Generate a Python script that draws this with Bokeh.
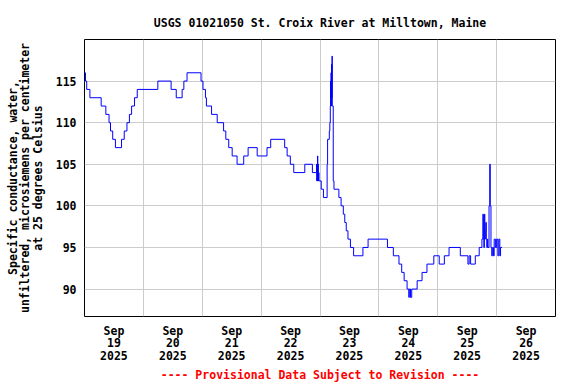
from bokeh.plotting import figure
from bokeh.models import FixedTicker, Range1d
from bokeh.embed import file_html
from bokeh.resources import INLINE

# Hours since 2025-09-19 00:00 at which the (integer) reading changes, and the new reading
hours = [0.0, 0.4, 0.9, 2.2, 6.8, 8.7, 10.0, 10.6, 11.5, 12.6, 15.1, 16.2, 17.3, 18.3, 19.2,
         20.4, 21.5, 29.9, 35.3, 37.4, 39.8, 40.5, 41.8, 47.5, 48.3, 49.3, 49.7, 51.8, 54.1,
         56.7, 57.6, 58.8, 60.2, 62.2, 64.9, 66.7, 70.4, 74.4, 75.9, 81.6, 82.6, 83.9, 85.3,
         89.8, 92.9, 94.6, 94.7, 94.8, 94.9, 95.0, 95.1, 95.2, 95.3, 95.4, 95.6, 96.5, 97.4,
         98.9, 99.1, 99.8, 100.0, 100.2, 100.3, 100.4, 100.5, 100.6, 100.7, 100.8, 100.9,
         101.0, 101.4, 101.7, 103.7, 104.6, 105.5, 106.1, 106.7, 107.4, 108.4, 109.7, 113.5,
         115.6, 123.5, 125.9, 128.2, 129.3, 130.3, 131.5, 132.2, 132.4, 132.9, 133.4, 135.6,
         137.6, 139.6, 142.4, 144.6, 146.7, 148.6, 153.2, 156.3, 156.8, 157.4, 159.3, 160.9,
         162.0, 162.4, 162.6, 162.8, 163.0, 163.2, 163.4, 163.6, 163.8, 164.0, 164.2, 164.4,
         164.9, 165.2, 165.4, 165.7, 166.0, 166.4, 166.7, 167.0, 167.5, 168.0, 168.5, 168.9,
         169.3, 169.6, 170.2]
values = [116, 115, 114, 113, 112, 111, 110, 109, 108, 107, 108, 109, 110, 111, 112,
          113, 114, 115, 114, 113, 114, 115, 116, 115, 114, 113, 112, 111, 110,
          109, 108, 107, 106, 105, 106, 107, 106, 107, 108, 107, 106, 105, 104,
          105, 104, 105, 103, 105, 103, 106, 103, 105, 103, 104, 103, 102, 101,
          105, 108, 109, 110, 112, 115, 113, 116, 112, 117, 113, 118,
          112, 103, 102, 101, 100, 99, 98, 97, 96, 95, 94, 95,
          96, 95, 94, 93, 92, 91, 90, 89, 90, 89, 90, 91,
          92, 93, 94, 93, 94, 95, 94, 93, 94, 93, 94, 95,
          96, 99, 96, 95, 99, 96, 97, 98, 96, 95, 96, 95,
          100, 105, 100, 95, 94, 95, 94, 96, 95, 96, 94, 96,
          94, 95, 95]

label_hours = [12, 36, 60, 84, 108, 132, 156, 180]
label_texts = ["Sep\n19\n2025", "Sep\n20\n2025", "Sep\n21\n2025", "Sep\n22\n2025",
               "Sep\n23\n2025", "Sep\n24\n2025", "Sep\n25\n2025", "Sep\n26\n2025"]
grid_hours = [24, 48, 72, 96, 120, 144, 168]
y_ticks = [90, 95, 100, 105, 110, 115]

FONT = "DejaVu Sans Mono"
FS = "11.5px"

p = figure(width=576, height=384, output_backend="svg", toolbar_location=None,
           x_range=Range1d(0, 192), y_range=Range1d(86.7, 120),
           min_border_left=84, min_border_right=21, min_border_top=39, min_border_bottom=68,
           background_fill_color="white", border_fill_color="white")

p.title.text = "USGS 01021050 St. Croix River at Milltown, Maine"
p.title.text_font = FONT
p.title.text_font_size = FS
p.title.text_font_style = "bold"
p.title.text_color = "black"
p.title.align = "center"
p.title.standoff = 20

p.outline_line_color = "black"
p.outline_line_width = 1
p.outline_line_alpha = 1.0

p.step(hours, values, mode="after", line_color="#0000ff", line_width=1)

# x axis
xa = p.xaxis[0]
xa.ticker = FixedTicker(ticks=label_hours)
xa.major_label_overrides = {h: t for h, t in zip(label_hours, label_texts)}
xa.major_tick_out = 0
xa.major_tick_in = 0
xa.minor_tick_out = 0
xa.minor_tick_in = 0
xa.axis_line_color = None
xa.major_label_text_font = FONT
xa.major_label_text_font_size = FS
xa.major_label_text_font_style = "bold"
xa.major_label_text_color = "black"
xa.major_label_text_line_height = 0.9
xa.major_label_standoff = 7
xa.axis_label = "---- Provisional Data Subject to Revision ----"
xa.axis_label_text_font = FONT
xa.axis_label_text_font_size = FS
xa.axis_label_text_font_style = "bold"
xa.axis_label_text_color = "#ff0000"
xa.axis_label_standoff = 2

# y axis
ya = p.yaxis[0]
ya.ticker = FixedTicker(ticks=y_ticks)
ya.major_tick_out = 0
ya.major_tick_in = 0
ya.minor_tick_out = 0
ya.minor_tick_in = 0
ya.axis_line_color = None
ya.major_label_text_font = FONT
ya.major_label_text_font_size = FS
ya.major_label_text_font_style = "bold"
ya.major_label_text_color = "black"
ya.major_label_standoff = 8
ya.axis_label = "Specific conductance, water,\nunfiltered, microsiemens per centimeter\nat 25 degrees Celsius"
ya.axis_label_text_font = FONT
ya.axis_label_text_font_size = FS
ya.axis_label_text_font_style = "bold"
ya.axis_label_text_color = "black"
ya.axis_label_text_line_height = 0.88
ya.axis_label_standoff = 8

# grids
p.xgrid.ticker = FixedTicker(ticks=grid_hours)
p.xgrid.grid_line_color = "#cccccc"
p.xgrid.grid_line_width = 1
p.ygrid.grid_line_color = "#cccccc"
p.ygrid.grid_line_width = 1

open("out.html", "w").write(file_html(p, INLINE))
